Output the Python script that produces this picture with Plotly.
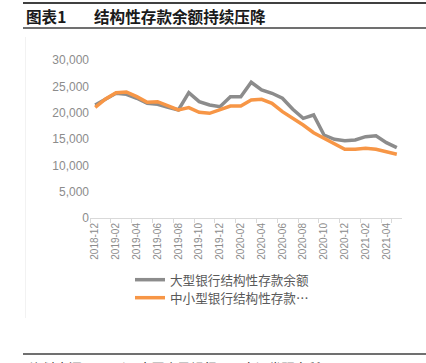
import plotly.graph_objects as go

months = ["2018-12", "2019-01", "2019-02", "2019-03", "2019-04", "2019-05", "2019-06",
          "2019-07", "2019-08", "2019-09", "2019-10", "2019-11", "2019-12", "2020-01",
          "2020-02", "2020-03", "2020-04", "2020-05", "2020-06", "2020-07", "2020-08",
          "2020-09", "2020-10", "2020-11", "2020-12", "2021-01", "2021-02", "2021-03",
          "2021-04", "2021-05"]
large_banks = [21450, 22600, 23680, 23490, 22730, 21780, 21590, 21020, 20510, 23800,
               22090, 21460, 21140, 23040, 23040, 25770, 24310, 23680, 22730, 20640,
               18930, 19560, 15760, 14940, 14680, 14810, 15440, 15630, 14300, 13350]
small_banks = [21020, 22600, 23800, 23930, 23040, 21970, 22090, 21270, 20510, 20950,
               20070, 19880, 20510, 21270, 21270, 22410, 22530, 21780, 20190, 18930,
               17660, 16200, 15130, 14180, 13040, 13040, 13240, 13040, 12590, 12100]
series_names = ["大型银行结构性存款余额", "中小型银行结构性存款…"]
y_ticks = [0, 5000, 10000, 15000, 20000, 25000, 30000]

W, H = 426, 363
L, R, T, B = 90, 402, 60, 218

def px(x):
    return (x - L) / (R - L)

def py(y):
    return (B - y) / (B - T)

cjk = "Noto Sans CJK SC"

fig = go.Figure()
fig.add_trace(go.Scatter(x=months, y=large_banks, mode="lines", name=series_names[0],
                         line=dict(color="#8c8c8c", width=3.5), legend="legend"))
fig.add_trace(go.Scatter(x=months, y=small_banks, mode="lines", name=series_names[1],
                         line=dict(color="#f79646", width=3.5), legend="legend2"))

leg_common = dict(xanchor="left", yanchor="top",
                  font=dict(family=cjk, size=12.6, color="#595959"),
                  itemwidth=30, bgcolor="rgba(0,0,0,0)")

fig.update_layout(
    width=W, height=H,
    margin=dict(l=L, r=W - R, t=T, b=H - B),
    paper_bgcolor="white", plot_bgcolor="white",
    font=dict(family="Liberation Sans, " + cjk, color="#7f7f7f"),
    showlegend=True,
    legend=dict(x=px(130), y=py(265), **leg_common),
    legend2=dict(x=px(130), y=py(283), **leg_common),
    xaxis=dict(type="category", tickmode="array", tickvals=months[::2],
               ticktext=months[::2], tickangle=-90, tickson="boundaries",
               ticks="outside", ticklen=4, tickcolor="#d9d9d9",
               showline=True, linecolor="#d9d9d9", linewidth=1,
               showgrid=False, zeroline=False,
               tickfont=dict(size=10, color="#8c8c8c"), range=[-0.5, 29.5]),
    yaxis=dict(range=[0, 30000], tickvals=y_ticks, tickformat=",",
               showgrid=False, zeroline=False, showline=False, ticks="",
               tickfont=dict(size=12, color="#8c8c8c")),
    shapes=[
        dict(type="line", xref="paper", yref="paper", x0=px(23), x1=px(426), y0=py(3), y1=py(3),
             line=dict(color="#404040", width=2)),
        dict(type="line", xref="paper", yref="paper", x0=px(23), x1=px(426), y0=py(28), y1=py(28),
             line=dict(color="#404040", width=1.5)),
        dict(type="line", xref="paper", yref="paper", x0=px(23), x1=px(426), y0=py(354), y1=py(354),
             line=dict(color="#404040", width=1.5)),
        dict(type="line", xref="paper", yref="paper", x0=px(25.5), x1=px(25.5), y0=py(37), y1=py(318),
             line=dict(color="#f2f2f2", width=1)),
    ],
    annotations=[
        dict(text="<b>图表1</b>", xref="paper", yref="paper", x=px(24), y=py(16),
             xanchor="left", yanchor="middle", showarrow=False,
             font=dict(family=cjk, size=15.6, color="#1a1a1a")),
        dict(text="<b>结构性存款余额持续压降</b>", xref="paper", yref="paper", x=px(92), y=py(16),
             xanchor="left", yanchor="middle", showarrow=False,
             font=dict(family=cjk, size=15.6, color="#1a1a1a")),
        dict(text="<i>资料来源：Wind，中国人民银行，平安证券研究所</i>", xref="paper", yref="paper",
             x=px(25), y=py(356), xanchor="left", yanchor="top", showarrow=False,
             font=dict(family=cjk, size=13, color="#1a1a1a")),
    ],
)

fig.write_html("out.html", config={"displayModeBar": False},
               post_script="document.body.style.margin='0';document.body.style.overflow='hidden';")
